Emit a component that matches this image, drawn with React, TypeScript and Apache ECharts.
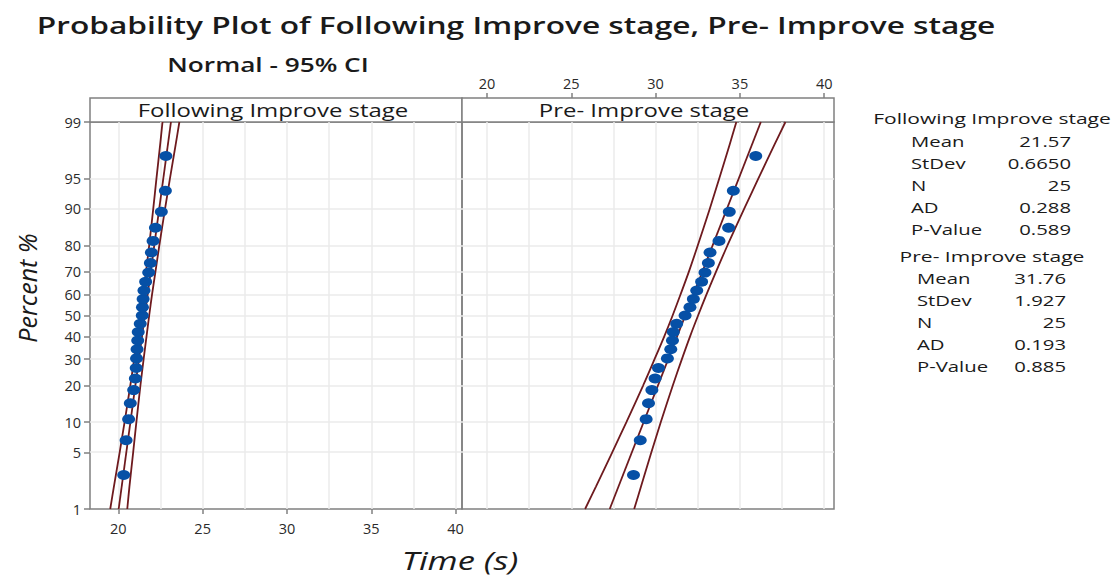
import React, { useEffect, useRef } from "react";
import * as echarts from "echarts";

// ---------- data ----------
// plotting positions (percent) of the 25 ordered observations
const RANK_PCT = [
  2.76, 6.69, 10.63, 14.57, 18.5, 22.44, 26.38, 30.31, 34.25, 38.19, 42.13, 46.06, 50.0,
  53.94, 57.87, 61.81, 65.75, 69.69, 73.62, 77.56, 81.5, 85.43, 89.37, 93.31, 97.24,
];
const FOLLOW_X = [
  20.32, 20.46, 20.61, 20.71, 20.91, 21.01, 21.06, 21.08, 21.11, 21.15, 21.18, 21.3, 21.42,
  21.43, 21.47, 21.52, 21.62, 21.8, 21.9, 21.96, 22.06, 22.2, 22.55, 22.79, 22.82,
];
const PRE_X = [
  28.69, 29.09, 29.44, 29.58, 29.78, 29.97, 30.17, 30.7, 30.9, 31.0, 31.05, 31.25, 31.75,
  32.04, 32.24, 32.44, 32.73, 32.93, 33.13, 33.23, 33.76, 34.33, 34.37, 34.61, 35.94,
];
// fitted line and 95% CI bands
const FIT_PCT = [1, 99];
const FOLLOW_FIT = [20.02, 23.12];
const PRE_FIT = [27.28, 36.24];
const CI_PCT = [1, 2, 5, 10, 20, 30, 40, 50, 60, 70, 80, 90, 95, 98, 99];
const FOLLOW_LO = [19.52, 19.74, 20.08, 20.37, 20.71, 20.94, 21.14, 21.31, 21.47, 21.64, 21.83, 22.07, 22.26, 22.48, 22.62];
const FOLLOW_HI = [20.53, 20.66, 20.88, 21.07, 21.31, 21.5, 21.67, 21.83, 22.0, 22.2, 22.43, 22.77, 23.06, 23.4, 23.62];
const PRE_LO = [25.82, 26.47, 27.43, 28.27, 29.26, 29.94, 30.51, 31.01, 31.48, 31.97, 32.5, 33.21, 33.77, 34.39, 34.79];
const PRE_HI = [28.73, 29.14, 29.75, 30.31, 31.02, 31.56, 32.04, 32.52, 33.02, 33.58, 34.26, 35.25, 36.09, 37.05, 37.7];

const PCT_TICKS = [1, 5, 10, 20, 30, 40, 50, 60, 70, 80, 90, 95, 99];
const X_TICKS = [20, 25, 30, 35, 40];
const X_GRID = [20, 22.5, 25, 27.5, 30, 32.5, 35, 37.5, 40];

const STATS_FOLLOW = [
  ["Mean", "21.57"],
  ["StDev", "0.6650"],
  ["N", "25"],
  ["AD", "0.288"],
  ["P-Value", "0.589"],
];
const STATS_PRE = [
  ["Mean", "31.76"],
  ["StDev", "1.927"],
  ["N", "25"],
  ["AD", "0.193"],
  ["P-Value", "0.885"],
];

// inverse standard normal (probability scale of the y axis)
function probit(p: number): number {
  const a = [-3.969683028665376e1, 2.209460984245205e2, -2.759285104469687e2, 1.38357751867269e2, -3.066479806614716e1, 2.506628277459239];
  const b = [-5.447609879822406e1, 1.615858368580409e2, -1.556989798598866e2, 6.680131188771972e1, -1.328068155288572e1];
  const c = [-7.784894002430293e-3, -3.223964580411365e-1, -2.400758277161838, -2.549732539343734, 4.374664141464968, 2.938163982698783];
  const d = [7.784695709041462e-3, 3.224671290700398e-1, 2.445134137142996, 3.754408661907416];
  const pl = 0.02425;
  if (p < pl) {
    const q = Math.sqrt(-2 * Math.log(p));
    return (((((c[0] * q + c[1]) * q + c[2]) * q + c[3]) * q + c[4]) * q + c[5]) / ((((d[0] * q + d[1]) * q + d[2]) * q + d[3]) * q + 1);
  }
  if (p > 1 - pl) {
    const q = Math.sqrt(-2 * Math.log(1 - p));
    return -(((((c[0] * q + c[1]) * q + c[2]) * q + c[3]) * q + c[4]) * q + c[5]) / ((((d[0] * q + d[1]) * q + d[2]) * q + d[3]) * q + 1);
  }
  const q = p - 0.5;
  const r = q * q;
  return ((((((a[0] * r + a[1]) * r + a[2]) * r + a[3]) * r + a[4]) * r + a[5]) * q) / (((((b[0] * r + b[1]) * r + b[2]) * r + b[3]) * r + b[4]) * r + 1);
}
const z = (pct: number) => probit(pct / 100);

const FONT = '"Open Sans", "Noto Sans", sans-serif';
const LINE_COLOR = "#6e1a1e";
const DOT_COLOR = "#0650a6";
const BORDER = "#808080";
const GRID_COLOR = "#ebebeb";
const TEXT = "#1a1a1a";

function txt(x: number, y: number, text: string, o: any = {}) {
  const { scaleX = 1, rotation = 0, ...style } = o;
  return {
    type: "text",
    x,
    y,
    scaleX,
    rotation,
    style: {
      text,
      fontFamily: FONT,
      fontSize: 14,
      fill: TEXT,
      textAlign: "center",
      textVerticalAlign: "middle",
      ...style,
    },
  };
}

export default function App() {
  const ref = useRef<HTMLDivElement>(null);

  useEffect(() => {
    if (!ref.current) return;
    const chart = echarts.init(ref.current, null, { renderer: "svg" });

    const zTicks = PCT_TICKS.map(z);
    const zMin = z(1);
    const zMax = z(99);
    const fmtPct = (v: number) => {
      let best = PCT_TICKS[0];
      let bd = Infinity;
      PCT_TICKS.forEach((p, i) => {
        const dd = Math.abs(zTicks[i] - v);
        if (dd < bd) {
          bd = dd;
          best = p;
        }
      });
      return String(best);
    };

    const gridLines = {
      silent: true,
      z: 1,
      symbol: ["none", "none"],
      label: { show: false },
      lineStyle: { color: GRID_COLOR, width: 1.5, type: "solid" },
      emphasis: { disabled: true },
      data: [
        ...X_GRID.map((v) => ({ xAxis: v })),
        ...zTicks.map((v) => ({ yAxis: v })),
      ],
    };

    const lineSeries = (xs: number[], pcts: number[], idx: number, smooth: boolean) => ({
      type: "line",
      xAxisIndex: idx,
      yAxisIndex: idx,
      data: xs.map((x, i) => [x, z(pcts[i])]),
      showSymbol: false,
      smooth: smooth ? 0.3 : false,
      lineStyle: { color: LINE_COLOR, width: 1.8 },
      z: 3,
      silent: true,
    });

    const dots = (xs: number[], idx: number) => ({
      type: "scatter",
      xAxisIndex: idx,
      yAxisIndex: idx,
      data: xs.map((x, i) => [x, z(RANK_PCT[i])]),
      symbol: "circle",
      symbolSize: [13, 10],
      itemStyle: { color: DOT_COLOR, opacity: 1 },
      z: 4,
      silent: true,
    });

    const graphic: any[] = [
      txt(516, 25, "Probability Plot of Following Improve stage, Pre- Improve stage", {
        fontWeight: 600,
        fontSize: 24,
        scaleX: 1.32,
      }),
      txt(268, 65, "Normal - 95% CI", { fontWeight: 600, fontSize: 19, scaleX: 1.38 }),
      {
        type: "rect",
        shape: { x: 90, y: 98, width: 372, height: 24 },
        style: { fill: "#fff", stroke: BORDER, lineWidth: 1.5 },
      },
      {
        type: "rect",
        shape: { x: 462, y: 98, width: 372, height: 24 },
        style: { fill: "#fff", stroke: BORDER, lineWidth: 1.5 },
      },
      txt(273, 110, "Following Improve stage", { fontSize: 18, scaleX: 1.33 }),
      txt(644, 110, "Pre- Improve stage", { fontSize: 18, scaleX: 1.33 }),
      txt(27, 288, "Percent %", { fontStyle: "italic", fontSize: 25, rotation: Math.PI / 2 }),
      txt(460, 560, "Time (s)", { fontStyle: "italic", fontSize: 25, scaleX: 1.38 }),
      txt(992, 118, "Following Improve stage", { fontSize: 14.5, scaleX: 1.45 }),
      txt(992, 256, "Pre- Improve stage", { fontSize: 14.5, scaleX: 1.45 }),
    ];
    STATS_FOLLOW.forEach(([k, v], i) => {
      const y = 141 + i * 22;
      graphic.push(txt(911, y, k, { fontSize: 14.5, scaleX: 1.4, textAlign: "left" }));
      graphic.push(txt(1071, y, v, { fontSize: 14.5, scaleX: 1.4, textAlign: "right" }));
    });
    STATS_PRE.forEach(([k, v], i) => {
      const y = 278 + i * 22;
      graphic.push(txt(917, y, k, { fontSize: 14.5, scaleX: 1.4, textAlign: "left" }));
      graphic.push(txt(1066, y, v, { fontSize: 14.5, scaleX: 1.4, textAlign: "right" }));
    });

    const axisLabelStyle = { fontFamily: FONT, fontSize: 14.5, color: "#2a2a2a" };

    chart.setOption({
      animation: false,
      backgroundColor: "#fff",
      grid: [
        { left: 90, top: 122, width: 372, height: 387, show: true, borderColor: BORDER, borderWidth: 1.5, backgroundColor: "transparent" },
        { left: 462, top: 122, width: 372, height: 387, show: true, borderColor: BORDER, borderWidth: 1.5, backgroundColor: "transparent" },
      ],
      xAxis: [
        {
          gridIndex: 0,
          type: "value",
          min: 18.32,
          max: 40.38,
          position: "bottom",
          axisLine: { show: false, onZero: false },
          axisTick: { show: true, customValues: X_TICKS, length: 5, lineStyle: { color: BORDER, width: 1.5 } },
          axisLabel: { ...axisLabelStyle, customValues: X_TICKS, margin: 12 },
          splitLine: { show: false },
        },
        {
          gridIndex: 1,
          type: "value",
          min: 18.52,
          max: 40.58,
          position: "top",
          offset: 24,
          axisLine: { show: false, onZero: false },
          axisTick: { show: true, customValues: X_TICKS, length: 5, lineStyle: { color: BORDER, width: 1.5 } },
          axisLabel: { ...axisLabelStyle, customValues: X_TICKS, margin: 7 },
          splitLine: { show: false },
        },
      ],
      yAxis: [
        {
          gridIndex: 0,
          type: "value",
          min: zMin,
          max: zMax,
          axisLine: { show: false, onZero: false },
          axisTick: { show: true, customValues: zTicks, length: 6, lineStyle: { color: BORDER, width: 1.5 } },
          axisLabel: { ...axisLabelStyle, customValues: zTicks, formatter: (v: number) => fmtPct(v), margin: 9 },
          splitLine: { show: false },
        },
        {
          gridIndex: 1,
          type: "value",
          min: zMin,
          max: zMax,
          axisLine: { show: false, onZero: false },
          axisTick: { show: false },
          axisLabel: { show: false },
          splitLine: { show: false },
        },
      ],
      series: [
        { type: "scatter", xAxisIndex: 0, yAxisIndex: 0, data: [], z: 1, markLine: gridLines, silent: true },
        { type: "scatter", xAxisIndex: 1, yAxisIndex: 1, data: [], z: 1, markLine: gridLines, silent: true },
        lineSeries(FOLLOW_LO, CI_PCT, 0, true),
        lineSeries(FOLLOW_HI, CI_PCT, 0, true),
        lineSeries(FOLLOW_FIT, FIT_PCT, 0, false),
        lineSeries(PRE_LO, CI_PCT, 1, true),
        lineSeries(PRE_HI, CI_PCT, 1, true),
        lineSeries(PRE_FIT, FIT_PCT, 1, false),
        dots(FOLLOW_X, 0),
        dots(PRE_X, 1),
      ],
      graphic,
    });

    return () => chart.dispose();
  }, []);

  return <div ref={ref} style={{ position: "fixed", left: 0, top: 0, width: 1117, height: 577 }} />;
}
